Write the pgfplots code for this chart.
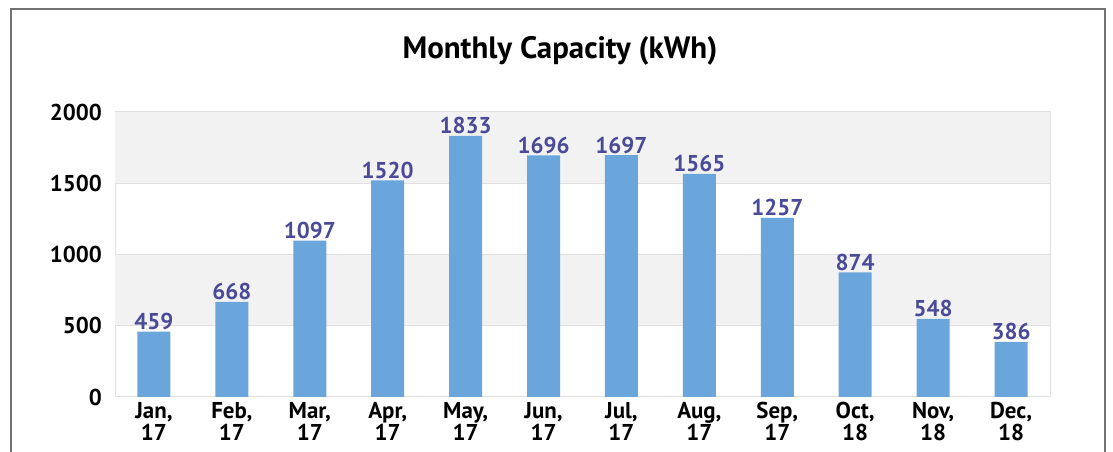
\documentclass[border=0pt]{standalone}
\usepackage{pgfplots}
\pgfplotsset{compat=1.18}
\usepackage{fontspec}
\setmainfont{PT Sans}
\definecolor{barblue}{HTML}{6AA5DB}
\definecolor{lblue}{HTML}{4A4A98}
\definecolor{band}{HTML}{F2F2F2}
\definecolor{gridc}{HTML}{E0E0E0}
\begin{document}
\begin{tikzpicture}[x=1bp,y=1bp]
\useasboundingbox (0,0) rectangle (1113,452);
\draw[color=black!55, line width=1.3bp] (11,-2) -- (11,443) -- (1105,443) -- (1105,-2);
\node[font=\fontsize{31}{34}\selectfont\bfseries] at (560,401) {Monthly Capacity (kWh)};
\begin{axis}[at={(115bp,55bp)}, anchor=south west, scale only axis,
  width=935bp, height=285bp,
  xmin=-0.5, xmax=11.5, ymin=0, ymax=2000,
  xtick={0,...,11},
  xticklabels={{Jan,\\17},{Feb,\\17},{Mar,\\17},{Apr,\\17},{May,\\17},{Jun,\\17},{Jul,\\17},{Aug,\\17},{Sep,\\17},{Oct,\\18},{Nov,\\18},{Dec,\\18}},
  xticklabel style={align=center, font=\fontsize{23}{22}\selectfont\bfseries, inner sep=1bp},
  ytick={0,500,1000,1500,2000},
  yticklabel style={font=\fontsize{23}{24}\selectfont\bfseries, inner xsep=0pt, xshift=-13bp},
  /pgf/number format/assume math mode=true,
  /pgf/number format/1000 sep={},
  axis line style={draw=gridc, line width=1bp},
  major tick style={draw=none},
  ybar, bar width=33bp,
  nodes near coords,
  nodes near coords style={font=\fontsize{23}{24}\selectfont\bfseries, color=lblue, inner sep=1.5bp},
  clip=false,
]
\fill[band] (axis cs:-0.5,500) rectangle (axis cs:11.5,1000);
\fill[band] (axis cs:-0.5,1500) rectangle (axis cs:11.5,2000);
\draw[gridc, line width=1bp] (axis cs:-0.5,500) -- (axis cs:11.5,500);
\draw[gridc, line width=1bp] (axis cs:-0.5,1000) -- (axis cs:11.5,1000);
\draw[gridc, line width=1bp] (axis cs:-0.5,1500) -- (axis cs:11.5,1500);
\addplot[fill=barblue, draw=none] table {
x y
0 459
1 668
2 1097
3 1520
4 1833
5 1696
6 1697
7 1565
8 1257
9 874
10 548
11 386
};
\end{axis}
\end{tikzpicture}
\end{document}
